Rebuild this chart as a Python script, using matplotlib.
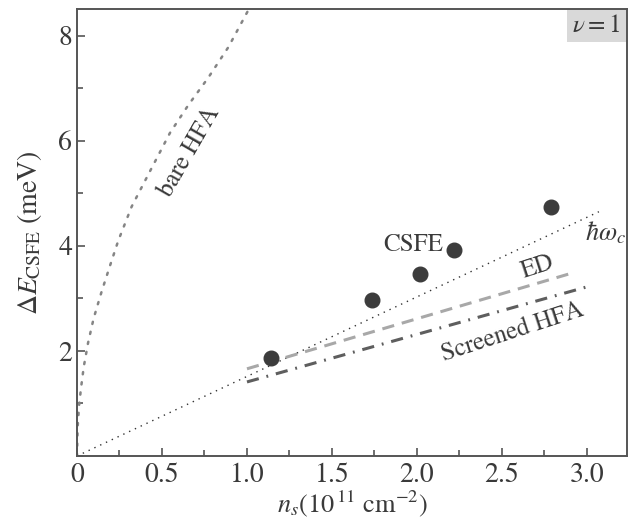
import numpy as np
import matplotlib
matplotlib.use('Agg')
import matplotlib.pyplot as plt
from matplotlib.patches import Rectangle
from matplotlib.ticker import MultipleLocator, FixedLocator

plt.rcParams['font.family'] = ['STIXGeneral', 'Liberation Serif', 'DejaVu Serif']
plt.rcParams['mathtext.fontset'] = 'stix'

# data #
csfe_n = [1.14, 1.735, 2.02, 2.22, 2.79]
csfe_e = [1.87, 2.97, 3.47, 3.92, 4.74]

hw_n = [0.0, 3.07]
hw_e = [0.0, 4.65]

ed_n = [1.0, 2.92]
ed_e = [1.66, 3.49]

scr_n = [1.0, 3.0]
scr_e = [1.41, 3.22]

bare_n = [0.0, 0.004, 0.012, 0.024, 0.04, 0.065, 0.098, 0.145, 0.194, 0.243,
          0.322, 0.439, 0.547, 0.655, 0.772, 0.89, 1.01]
bare_e = [0.0, 0.55, 0.95, 1.3, 1.7, 2.15, 2.62, 3.13, 3.62, 4.1,
          4.75, 5.48, 6.15, 6.68, 7.2, 7.78, 8.5]

xticks = [0, 0.5, 1.0, 1.5, 2.0, 2.5, 3.0]
xticklabels = ['0', '0.5', '1.0', '1.5', '2.0', '2.5', '3.0']
yticks = [2, 4, 6, 8]

txt = '#3a3a3a'
fig = plt.figure(figsize=(6.32, 5.25), dpi=100)
ax = fig.add_axes([0.1218, 0.1314, 0.8702, 0.8516])

# lines #
ax.plot(bare_n, bare_e, color='#858585', lw=1.8, linestyle=(0, (0.9, 3.2)),
        dash_capstyle='round')
ax.plot(hw_n, hw_e, color='#333333', lw=1.0, linestyle=(0, (1.0, 3.6)))
ax.plot(ed_n, ed_e, color='#a8a8a8', lw=2.2, linestyle=(0, (4.0, 2.6)))
ax.plot(scr_n, scr_e, color='#5e5e5e', lw=2.2, linestyle=(0, (4.0, 2.6, 0.6, 2.6)))
ax.plot(csfe_n, csfe_e, 'o', color='#3c3c3c', markersize=10.5, zorder=5)

# labels on the plot #
ax.text(0.665, 5.79, 'bare HFA', rotation=60, ha='center', va='center',
        fontsize=18, color=txt)
ax.text(1.98, 4.02, 'CSFE', ha='center', va='center', fontsize=18, color=txt)
ax.text(2.71, 3.6, 'ED', rotation=18, ha='center', va='center', fontsize=18, color=txt)
ax.text(2.56, 2.36, 'Screened HFA', rotation=18, ha='center', va='center',
        fontsize=18, color=txt)
ax.text(3.11, 4.25, r'$\hbar\omega_c$', ha='center', va='center', fontsize=19, color=txt)

# nu = 1 box #
ax.add_patch(Rectangle((0.891, 0.926), 0.109, 0.074, transform=ax.transAxes,
                       facecolor='#d9d9d9', edgecolor='none', zorder=1))
ax.text(0.944, 0.962, r'$\nu = 1$', transform=ax.transAxes, ha='center', va='center',
        fontsize=18, color=txt)

# axes #
ax.set_xlim(0, 3.235)
ax.set_ylim(0, 8.51)
ax.xaxis.set_major_locator(FixedLocator(xticks))
ax.set_xticklabels(xticklabels)
ax.xaxis.set_minor_locator(MultipleLocator(0.25))
ax.yaxis.set_major_locator(FixedLocator(yticks))
ax.yaxis.set_minor_locator(MultipleLocator(1))
ax.tick_params(which='both', direction='in', color='#555555', labelsize=20,
               labelcolor=txt, width=1.2)
ax.tick_params(which='major', length=6)
ax.tick_params(which='minor', length=4)
ax.tick_params(axis='x', pad=5)
for s in ax.spines.values():
    s.set_color('#555555')
    s.set_linewidth(1.4)

ax.set_xlabel(r'$n_s$(10$^{\,11}$ cm$^{-2}$)', fontsize=19, color=txt, labelpad=0)
ax.set_ylabel(r'$\Delta E_{\mathrm{CSFE}}$ (meV)', fontsize=20, color=txt, labelpad=10)

fig.savefig('out.png')
